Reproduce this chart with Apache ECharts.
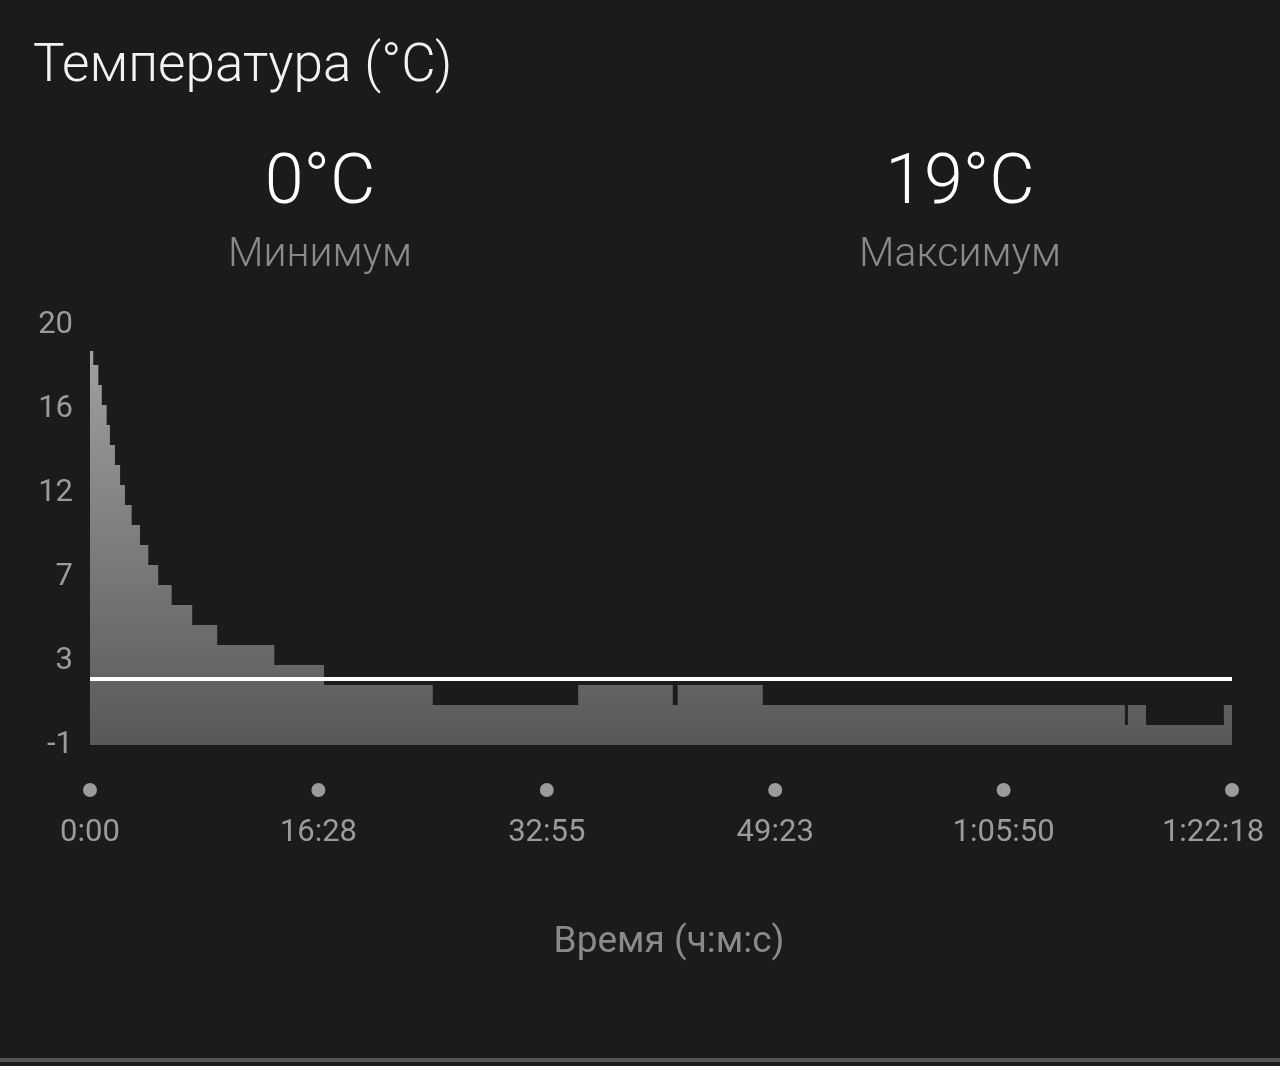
<!DOCTYPE html>
<html>
<head>
<meta charset="utf-8">
<script src="https://cdn.jsdelivr.net/npm/echarts@6/dist/echarts.min.js"></script>
<style>
html,body{margin:0;padding:0;background:#1b1b1b;}
#chart{width:1280px;height:1066px;}
</style>
</head>
<body>
<div id="chart"></div>
<script>
// ---- data ----
const chartTitle = 'Температура (°C)';
const minLabel = '0°C';
const minCaption = 'Минимум';
const maxLabel = '19°C';
const maxCaption = 'Максимум';
const xAxisName = 'Время (ч:м:с)';

// time in seconds since start, temperature (°C) held from that time (step)
const times = [0, 14, 36, 51, 72, 86, 108, 130, 151, 180, 216, 252, 295, 353, 442, 550, 797, 1012, 1482, 2111, 2520, 2541, 2909, 4475, 4488, 4566, 4903, 4938];
const temps = [18.7, 18, 17, 16, 15, 14, 13, 12, 11, 10, 9, 8, 7, 6, 5, 4, 3, 2, 1, 2, 1, 2, 1, 0, 1, 0, 1, 1];

const avgTimes = [0, 4938];
const avgTemp = 2.3;

const totalSeconds = 4938;
const xTickLabels = ['0:00', '16:28', '32:55', '49:23', '1:05:50', '1:22:18'];
const yTickLabels = ['-1', '3', '7', '12', '16', '20'];
const yMin = -1, yMax = 20;

// ---- chart ----
const chart = echarts.init(document.getElementById('chart'));
const labelColor = '#9b9b9b';
const font = 'Roboto, "Noto Sans", sans-serif';

const seriesData = times.map((t, i) => [t, temps[i]]);
const avgData = avgTimes.map(t => [t, avgTemp]);

const option = {
  backgroundColor: '#1b1b1b',
  animation: false,
  grid: { left: 90, right: 48, top: 325, bottom: 321, containLabel: false, outerBoundsMode: 'none' },
  xAxis: {
    type: 'value',
    min: 0,
    max: totalSeconds,
    interval: totalSeconds / (xTickLabels.length - 1),
    axisLine: { show: false },
    axisTick: { show: false },
    splitLine: { show: false },
    axisLabel: {
      showMinLabel: true,
      showMaxLabel: true,
      margin: 20,
      formatter: function (v, i) {
        const lab = xTickLabels[i] !== undefined ? xTickLabels[i] : '';
        if (i === xTickLabels.length - 1) return '{d| }\n{tr|' + lab + '}';
        return '{d| }\n{t|' + lab + '}';
      },
      rich: {
        d: { width: 14, height: 14, lineHeight: 50, backgroundColor: labelColor, borderRadius: 7, align: 'center' },
        t: { fontSize: 31, lineHeight: 36, color: labelColor, fontFamily: font, align: 'center' },
        tr: { fontSize: 31, lineHeight: 36, color: labelColor, fontFamily: font, align: 'left', padding: [0, 38, 0, 0] }
      }
    }
  },
  yAxis: {
    type: 'value',
    min: yMin,
    max: yMax,
    interval: (yMax - yMin) / (yTickLabels.length - 1),
    axisLine: { show: false },
    axisTick: { show: false },
    splitLine: { show: false },
    axisLabel: {
      margin: 17,
      color: labelColor,
      fontSize: 31,
      fontFamily: font,
      formatter: function (v, i) { return yTickLabels[i] !== undefined ? yTickLabels[i] : ''; }
    }
  },
  series: [
    {
      type: 'line',
      step: 'end',
      data: seriesData,
      showSymbol: false,
      lineStyle: { width: 0, opacity: 0 },
      areaStyle: {
        origin: 'start',
        opacity: 1,
        color: new echarts.graphic.LinearGradient(0, 0, 0, 1, [
          { offset: 0, color: '#a0a0a0' },
          { offset: 1, color: '#585858' }
        ])
      },
      z: 2
    },
    {
      type: 'line',
      data: avgData,
      showSymbol: false,
      lineStyle: { color: '#ffffff', width: 4 },
      z: 3
    }
  ],
  graphic: [
    { type: 'text', left: 33, top: 41, style: { text: chartTitle, fill: '#f2f2f2', font: '300 53px ' + font } },
    { type: 'text', x: 320, y: 185, style: { text: minLabel, fill: '#ffffff', font: '300 70px ' + font, textAlign: 'center', textVerticalAlign: 'middle' } },
    { type: 'text', x: 320, y: 256, style: { text: minCaption, fill: '#8a8a8a', font: '300 41px ' + font, textAlign: 'center', textVerticalAlign: 'middle' } },
    { type: 'text', x: 960, y: 185, style: { text: maxLabel, fill: '#ffffff', font: '300 70px ' + font, textAlign: 'center', textVerticalAlign: 'middle' } },
    { type: 'text', x: 960, y: 256, style: { text: maxCaption, fill: '#8a8a8a', font: '300 41px ' + font, textAlign: 'center', textVerticalAlign: 'middle' } },
    { type: 'text', x: 669, y: 943, style: { text: xAxisName, fill: '#8a8a8a', font: '37px ' + font, textAlign: 'center', textVerticalAlign: 'middle' } },
    { type: 'rect', left: 0, top: 1058, shape: { width: 1280, height: 4 }, style: { fill: '#555555' } }
  ]
};
chart.setOption(option);
</script>
</body>
</html>
